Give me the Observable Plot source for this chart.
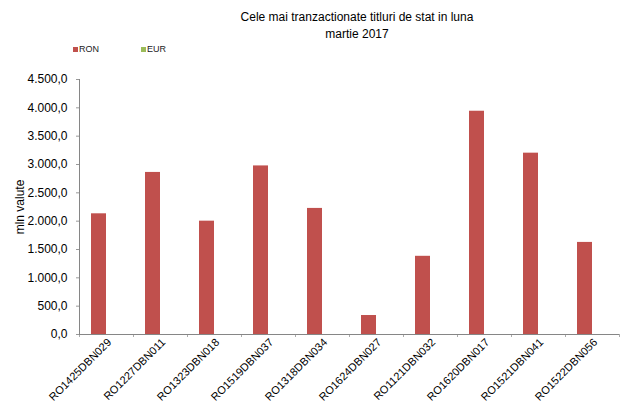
<!DOCTYPE html>
<html>
<head>
<meta charset="utf-8">
<script src="https://cdn.jsdelivr.net/npm/d3@7"></script>
<script src="https://cdn.jsdelivr.net/npm/@observablehq/plot@0.6"></script>
<style>
  html, body { margin: 0; padding: 0; background: #fff; }
  #wrap { position: relative; width: 624px; height: 409px; font-family: "Liberation Sans", Arial, sans-serif; }
  #wrap svg { position: absolute; left: 0; top: 0; }
  .title { position: absolute; left: 0; width: 714px; text-align: center; font-size: 12px; color: #000; line-height: 17px; top: 9px; }
  .legend { position: absolute; top: 44px; font-size: 9px; color: #222; display: flex; align-items: center; }
  .legend span.sw { display: inline-block; width: 5px; height: 5px; margin-right: 1px; }
  .ylabel { position: absolute; left: 20px; top: 207px; transform: translate(-50%, -50%) rotate(-90deg); font-size: 12px; color: #000; white-space: nowrap; }
</style>
</head>
<body>
<div id="wrap"></div>
<script>
const titleLines = ["Cele mai tranzactionate  titluri  de stat in luna", "martie 2017"];
const yLabel = "mln  valute";
const seriesNames = ["RON", "EUR"];
const seriesColors = ["#C0504D", "#9BBB59"];
const codes = ["RO1425DBN029", "RO1227DBN011", "RO1323DBN018", "RO1519DBN037", "RO1318DBN034",
               "RO1624DBN027", "RO1121DBN032", "RO1620DBN017", "RO1521DBN041", "RO1522DBN056"];
const ron = [2130, 2860, 2000, 2975, 2225, 335, 1380, 3940, 3200, 1625];
const eur = [0, 0, 0, 0, 0, 0, 0, 0, 0, 0];
const yTicks = [0, 500, 1000, 1500, 2000, 2500, 3000, 3500, 4000, 4500];

const table = codes.map((c, i) => ({code: c, ron: ron[i], eur: eur[i]}));
const locale = d3.formatLocale({decimal: ",", thousands: ".", grouping: [3], currency: ["", ""]});
const fmt = locale.format(",.1f");

const chart = Plot.plot({
  width: 624,
  height: 409,
  marginTop: 79,
  marginBottom: 75,
  marginLeft: 79,
  marginRight: 5,
  style: {fontFamily: "'Liberation Sans', Arial, sans-serif", fontSize: "12px", background: "transparent", color: "#000"},
  x: {domain: codes, padding: 0, axis: null},
  y: {domain: [0, 4500], axis: null},
  marks: [
    Plot.barY(table, {x: "code", y: "ron", fill: seriesColors[0], insetLeft: 12, insetRight: 27}),
    Plot.barY(table, {x: "code", y: "eur", fill: seriesColors[1], insetLeft: 27, insetRight: 12}),
    Plot.axisY({ticks: yTicks, tickFormat: fmt, tickSize: 3, tickPadding: 9, stroke: "#999", fill: "#000", label: null, fontSize: 12}),
    Plot.ruleX([0], {x: () => codes[0], dx: -27, y1: 0, y2: 4500, stroke: "#868686"}),
    Plot.axisX({tickSize: 3, tickFormat: () => "", dx: -27, stroke: "#aaa", label: null}),
    Plot.axisX({ticks: [codes[codes.length - 1]], tickSize: 3, tickFormat: () => "", dx: 27, stroke: "#aaa", label: null}),
    Plot.ruleY([0], {stroke: "#868686"}),
    Plot.axisX({tickSize: 0, tickRotate: -45, tickPadding: 6, dx: 3, fontSize: 11, fill: "#000", label: null})
  ]
});

const wrap = document.getElementById("wrap");
wrap.appendChild(chart);

const t = document.createElement("div");
t.className = "title";
t.innerHTML = titleLines.join("<br>");
wrap.appendChild(t);

const legendX = [73, 141];
seriesNames.forEach((name, i) => {
  const l = document.createElement("div");
  l.className = "legend";
  l.style.left = legendX[i] + "px";
  l.innerHTML = `<span class="sw" style="background:${seriesColors[i]}"></span>${name}`;
  wrap.appendChild(l);
});

const yl = document.createElement("div");
yl.className = "ylabel";
yl.textContent = yLabel;
wrap.appendChild(yl);
</script>
</body>
</html>
